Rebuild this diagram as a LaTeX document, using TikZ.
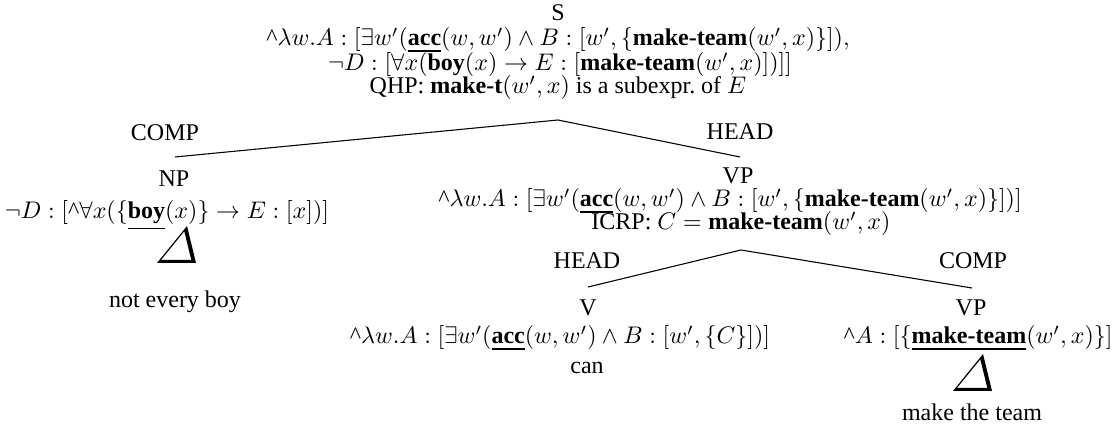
\documentclass[tikz,border=0pt]{standalone}
\usepackage{fontspec}
\setmainfont{Liberation Serif}

% bold predicate name
\newcommand\kw[1]{\textbf{#1}}
% heavy underline placed below the depth of its argument
\newsavebox\ulbox
\newcommand\ulb[1]{\sbox\ulbox{#1}\rlap{\rule[\dimexpr-\dp\ulbox-2.2pt\relax]{\wd\ulbox}{0.8pt}}\usebox\ulbox}
% raised caret before a term
\newcommand\upc{\mbox{\^{}}}

\begin{document}
\begin{tikzpicture}[x=0.4167pt,y=-0.4167pt,
  lbl/.style={inner sep=0pt, anchor=base},
  lble/.style={inner sep=0pt, anchor=base east},
  branch/.style={line width=0.45pt},
  roof/.pic={\fill[even odd rule]
      (0,0) -- (30,-37) -- (39,0) -- cycle
      (4,-3) -- (27.3,-31.7) -- (34.3,-3) -- cycle;}]
\useasboundingbox (0,0) rectangle (1114,430);

% root
\node[lbl] (S) at (558,21) {S};
\node[lbl] (s1) at (558,46) {$\upc\lambda w.A : [\exists w'(\ulb{\kw{acc}}(w,w') \wedge B : [w', \{\kw{make-team}(w',x)\}]),$};
\node[lbl] (s2) at (560,71) {$\neg D : [\forall x(\kw{boy}(x) \rightarrow E : [\kw{make-team}(w',x)])]]$};
\node[lbl] (s3) at (558,94) {QHP: \kw{make-t}$(w',x)$ is a subexpr.\ of $E$};

\coordinate (rootFoot) at (558,120);
\coordinate (npTop) at (175,157);
\coordinate (vpTop) at (740,157);
\draw[branch] (npTop) -- (rootFoot) -- (vpTop);
\node[lbl] (compA) at (165,141) {COMP};
\node[lbl] (headA) at (740,140) {HEAD};

% subject
\node[lbl] (NP) at (174,187) {NP};
\node[lbl] (NPf) at (167,219) {$\neg D : [\upc\forall x(\{\ulb{\kw{boy}}(x)\} \rightarrow E : [x])]$};
\pic at (157,263) {roof};
\node[lbl] (neb) at (175,308) {not every boy};

% predicate
\node[lbl] (VP) at (738,184) {VP};
\node[lbl] (VPf) at (730,207) {$\upc\lambda w.A : [\exists w'(\ulb{\kw{acc}}(w,w') \wedge B : [w', \{\kw{make-team}(w',x)\}])]$};
\node[lbl] (icrp) at (741,230) {ICRP: $C = \kw{make-team}(w',x)$};

\coordinate (vpFoot) at (741,250);
\coordinate (vTop) at (588,287);
\coordinate (vpbTop) at (972,288);
\draw[branch] (vTop) -- (vpFoot) -- (vpbTop);
\node[lbl] (headB) at (587,269) {HEAD};
\node[lbl] (compB) at (973,269) {COMP};

% modal
\node[lbl] (V) at (588,316) {V};
\node[lbl] (Vf) at (560,344) {$\upc\lambda w.A : [\exists w'(\ulb{\kw{acc}}(w,w') \wedge B : [w', \{C\}])]$};
\node[lbl] (can) at (587,374) {can};

% complement
\node[lbl] (VPb) at (971,316) {VP};
\node[lble] (VPbf) at (1113,344) {$\upc A : [\{\ulb{\kw{make-team}}(w',x)\}]$};
\pic at (953,391) {roof};
\node[lbl] (mtt) at (972,421) {make the team};
\end{tikzpicture}
\end{document}
